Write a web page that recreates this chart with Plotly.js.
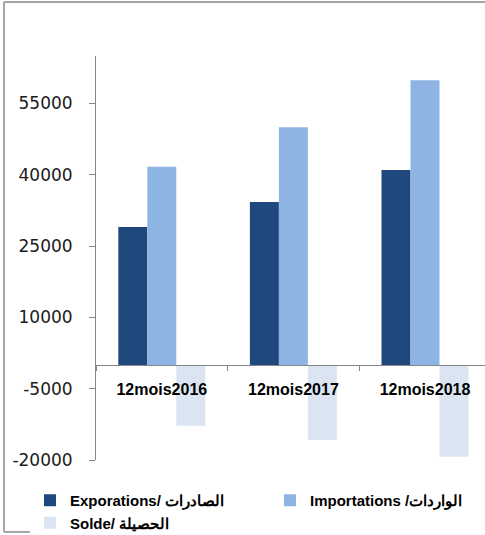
<!DOCTYPE html>
<html>
<head>
<meta charset="utf-8">
<script src="https://cdn.plot.ly/plotly-3.0.1.min.js"></script>
<style>
html,body{margin:0;padding:0;background:#fff;}
#chart{width:485px;height:535px;}
</style>
</head>
<body>
<div id="chart"></div>
<script>
var categories = ['12mois2016', '12mois2017', '12mois2018'];
var exportsVals = [29000, 34300, 41000];
var importsVals = [41700, 50000, 59900];
var soldeVals = [-12800, -15800, -19300];
var seriesNames = ['Exporations/ الصادرات', 'Importations /الواردات', 'Solde/ الحصيلة'];
var yTickVals = [-20000, -5000, 10000, 25000, 40000, 55000];

var W = 485, H = 535, L = 96, T = 56, B = 75;
var plotW = W - L, plotH = H - T - B;
function px(x){ return (x - L) / plotW; }
function py(y){ return (H - B - y) / plotH; }

var traces = [
  {type:'bar', name: seriesNames[0], x: categories, y: exportsVals, marker:{color:'#1F497D'}},
  {type:'bar', name: seriesNames[1], x: categories, y: importsVals, marker:{color:'#8EB4E3'}},
  {type:'bar', name: seriesNames[2], x: categories, y: soldeVals, marker:{color:'#DBE5F1'}}
];

var frameColor = '#a6a6a6';
var layout = {
  width: W, height: H,
  margin: {l: L, r: 0, t: T, b: B, pad: 0, autoexpand: false},
  paper_bgcolor: '#fff', plot_bgcolor: '#fff',
  barmode: 'group', bargap: 0.339, bargroupgap: 0,
  showlegend: true,
  legend: {
    orientation: 'h', xref: 'paper', yref: 'paper',
    x: px(30), y: py(484), xanchor: 'left', yanchor: 'top',
    entrywidth: 195, entrywidthmode: 'pixels',
    font: {family: 'Liberation Sans, Arial, sans-serif', size: 15, color: '#000', weight: 'bold'},
    traceorder: 'normal', itemsizing: 'constant', tracegroupgap: 0
  },
  xaxis: {
    type: 'category', range: [-0.5, 2.456],
    anchor: 'free', position: 20000 / 85000,
    showline: true, linecolor: '#868686', linewidth: 1,
    ticks: 'outside', ticklen: 5, tickcolor: '#868686', tickson: 'boundaries',
    showgrid: false, zeroline: false,
    tickfont: {family: 'Liberation Sans, Arial, sans-serif', size: 16, color: '#000', weight: 'bold'},
    ticklabelstandoff: 10
  },
  yaxis: {
    range: [-20000, 65000],
    tickmode: 'array', tickvals: yTickVals, ticktext: yTickVals.map(String),
    showline: true, linecolor: '#868686', linewidth: 1,
    ticks: 'outside', ticklen: 6, tickcolor: '#868686',
    showgrid: false, zeroline: false,
    tickfont: {family: 'DejaVu Sans, sans-serif', size: 17, color: '#1a1a1a'},
    ticklabelstandoff: 13
  },
  shapes: [
    {type:'line', xref:'paper', yref:'paper', x0: px(4), x1: px(4), y0: py(2), y1: py(532), line:{color: frameColor, width: 2}},
    {type:'line', xref:'paper', yref:'paper', x0: px(4), x1: px(492), y0: py(2), y1: py(2), line:{color: frameColor, width: 2}},
    {type:'line', xref:'paper', yref:'paper', x0: px(4), x1: px(492), y0: py(532), y1: py(532), line:{color: frameColor, width: 2}}
  ]
};

Plotly.newPlot('chart', traces, layout, {displayModeBar: false, staticPlot: true});
</script>
</body>
</html>
